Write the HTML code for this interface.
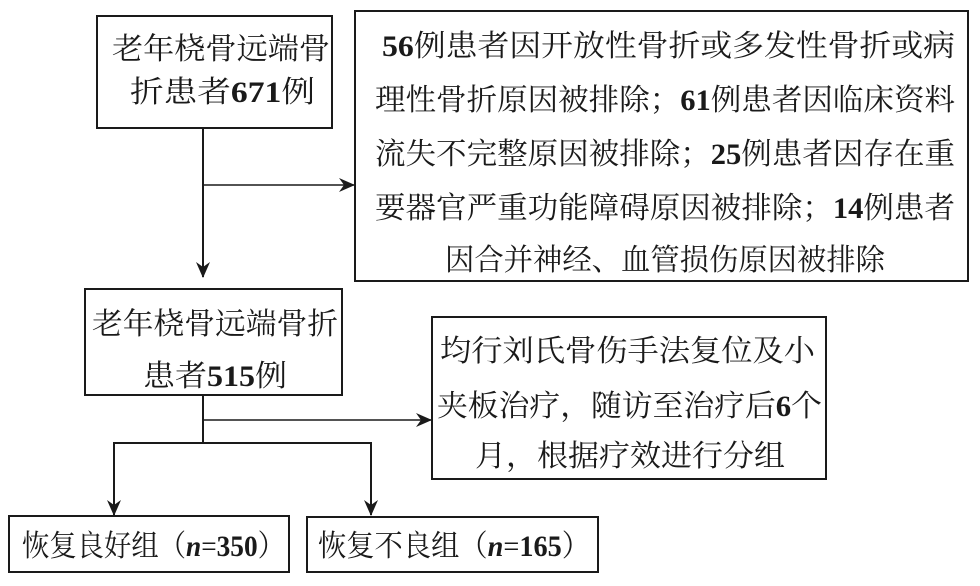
<!DOCTYPE html>
<html><head><meta charset="utf-8"><style>
html,body{margin:0;padding:0;background:#fff}
svg{display:block}
text{font-family:"Liberation Serif","Noto Serif CJK SC",serif;font-size:30px;fill:#1a1a1a}
.d{font-weight:bold;font-family:"Liberation Serif",serif}
</style></head><body>
<svg width="980" height="586" viewBox="0 0 980 586" xmlns="http://www.w3.org/2000/svg">
<defs><marker id="a" markerWidth="16" markerHeight="16" refX="15" refY="8" orient="auto" markerUnits="userSpaceOnUse"><path d="M0,1 L16,8 L0,15 L5,8 Z" fill="#1a1a1a"/></marker></defs>
<g fill="none" stroke="#1a1a1a" stroke-width="2">
<rect x="97" y="16" width="235" height="112"/>
<rect x="355" y="11" width="613" height="270"/>
<rect x="85" y="289" width="257" height="106"/>
<rect x="432" y="317" width="394" height="162"/>
<rect x="9" y="516" width="280" height="56"/>
<rect x="307" y="517" width="291" height="55"/>
<line x1="203" y1="128" x2="203" y2="277" marker-end="url(#a)"/>
<line x1="203" y1="185" x2="354" y2="185" stroke-width="1.4" marker-end="url(#a)"/>
<line x1="203" y1="395" x2="203" y2="443"/>
<line x1="203" y1="420" x2="431" y2="420" stroke-width="1.4" marker-end="url(#a)"/>
<polyline points="114,515 114,443 371,443 371,515" marker-end="url(#a)"/>
<line x1="114" y1="443" x2="114" y2="515" marker-end="url(#a)"/>
</g>
<text x="112" y="59" textLength="218" lengthAdjust="spacingAndGlyphs">老年桡骨远端骨</text>
<text x="130" y="102" textLength="185" lengthAdjust="spacingAndGlyphs">折患者<tspan class="d">671</tspan>例</text>
<text x="382" y="56" textLength="573" lengthAdjust="spacingAndGlyphs"><tspan class="d">56</tspan>例患者因开放性骨折或多发性骨折或病</text>
<text x="375" y="110" textLength="580" lengthAdjust="spacingAndGlyphs">理性骨折原因被排除；<tspan class="d">61</tspan>例患者因临床资料</text>
<text x="375" y="164" textLength="580" lengthAdjust="spacingAndGlyphs">流失不完整原因被排除；<tspan class="d">25</tspan>例患者因存在重</text>
<text x="375" y="218" textLength="580" lengthAdjust="spacingAndGlyphs">要器官严重功能障碍原因被排除；<tspan class="d">14</tspan>例患者</text>
<text x="445" y="270" textLength="440" lengthAdjust="spacingAndGlyphs">因合并神经、血管损伤原因被排除</text>
<text x="92" y="334" textLength="246" lengthAdjust="spacingAndGlyphs">老年桡骨远端骨折</text>
<text x="143" y="386" textLength="144" lengthAdjust="spacingAndGlyphs">患者<tspan class="d">515</tspan>例</text>
<text x="440" y="361" textLength="375" lengthAdjust="spacingAndGlyphs">均行刘氏骨伤手法复位及小</text>
<text x="437" y="416" textLength="385" lengthAdjust="spacingAndGlyphs">夹板治疗，随访至治疗后<tspan class="d">6</tspan>个</text>
<text x="475" y="466" textLength="310" lengthAdjust="spacingAndGlyphs">月，根据疗效进行分组</text>
<text x="22" y="556" textLength="263" lengthAdjust="spacingAndGlyphs">恢复良好组（<tspan font-style="italic" font-weight="bold">n</tspan>=<tspan class="d">350</tspan>）</text>
<text x="318" y="556" textLength="272" lengthAdjust="spacingAndGlyphs">恢复不良组（<tspan font-style="italic" font-weight="bold">n</tspan>=<tspan class="d">165</tspan>）</text>
</svg>
</body></html>
